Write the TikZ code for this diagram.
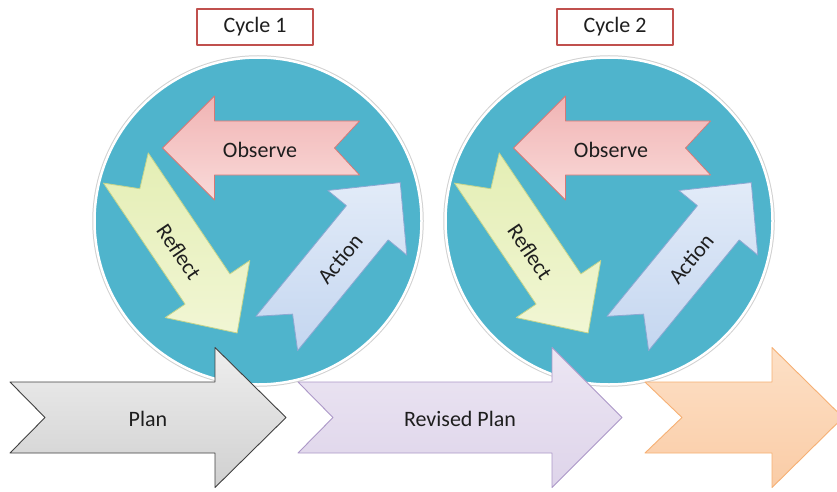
\documentclass[tikz,border=0pt]{standalone}
\usepackage{fontspec}
\setmainfont{Carlito}
\usepackage{tikz}
\usetikzlibrary{positioning}
\usepackage{xcolor}
\definecolor{ink}{RGB}{30,30,30}
\definecolor{aqua}{RGB}{79,180,204}
\definecolor{tagred}{RGB}{192,80,77}
\definecolor{obsTop}{RGB}{241,180,180}
\definecolor{obsBot}{RGB}{249,218,217}
\definecolor{obsLine}{RGB}{214,120,118}
\definecolor{refTop}{RGB}{228,238,180}
\definecolor{refBot}{RGB}{241,246,212}
\definecolor{refLine}{RGB}{196,212,140}
\definecolor{actTop}{RGB}{226,235,248}
\definecolor{actBot}{RGB}{196,214,240}
\definecolor{actLine}{RGB}{140,168,210}
\definecolor{planTop}{RGB}{238,238,238}
\definecolor{planBot}{RGB}{208,208,208}
\definecolor{revTop}{RGB}{236,230,243}
\definecolor{revBot}{RGB}{222,212,234}
\definecolor{revLine}{RGB}{172,152,200}
\definecolor{nxtTop}{RGB}{253,224,198}
\definecolor{nxtBot}{RGB}{250,204,166}
\definecolor{nxtLine}{RGB}{246,176,116}
\tikzset{
  pics/notcharrow/.style n args={5}{code={%
    % length, half shaft, half head, head length, notch depth
    \path[pic actions] ({-#1/2},{#2}) -- ({#1/2-#4},{#2}) -- ({#1/2-#4},{#3})
      -- ({#1/2},0) -- ({#1/2-#4},{-#3}) -- ({#1/2-#4},{-#2})
      -- ({-#1/2},{-#2}) -- ({-#1/2+#5},0) -- cycle;
  }},
  ring/.style={circle,fill=aqua,draw=white,line width=2.5pt,minimum size=327pt,
    preaction={draw=black!18,line width=4.5pt}},
  tagbox/.style={draw=tagred,fill=white,line width=1.2pt,minimum width=116pt,
    minimum height=36pt,inner sep=0pt,font=\fontsize{22}{26}\selectfont,text=ink},
  lbl/.style={font=\fontsize{22}{26}\selectfont,text=ink,inner sep=0pt},
  obsarrow/.style={draw=obsLine,top color=obsTop,bottom color=obsBot,line width=0.8pt},
  refarrow/.style={draw=refLine,top color=refTop,bottom color=refBot,line width=0.8pt},
  actarrow/.style={draw=actLine,top color=actTop,bottom color=actBot,line width=0.8pt},
  planarrow/.style={draw=black!75,top color=planTop,bottom color=planBot,line width=0.9pt},
  revarrow/.style={draw=revLine,top color=revTop,bottom color=revBot,line width=0.9pt},
  nxtarrow/.style={draw=nxtLine,top color=nxtTop,bottom color=nxtBot,line width=0.9pt},
}

\begin{document}
\begin{tikzpicture}[x=1pt,y=-1pt,line join=round]
\clip (0,0) rectangle (837,492);
\fill[white] (0,0) rectangle (837,492);
% one circle per cycle with its three steps
\foreach \i/\cx/\bx in {1/258/255,2/609/615}{
  \node[ring] (ring\i) at (\cx,221) {};
  \node[tagbox] (tag\i) at (\bx,27) {Cycle \i};
  \pic[obsarrow,rotate=180] at ({\cx+3},148) {notcharrow={197}{27}{52}{52}{25}};
  \node[lbl] (obs\i) at ({\cx+2},150) {Observe};
  \pic[refarrow,rotate=-56] at ({\cx-76.5},250.5) {notcharrow={199}{27}{51}{53}{25}};
  \node[lbl,rotate=-56] (ref\i) at ({\cx-79},252) {Reflect};
  \pic[actarrow,rotate=50.7] at ({\cx+80.5},258) {notcharrow={195}{27}{51}{52}{25}};
  \node[lbl,rotate=50.7] (act\i) at ({\cx+82},259) {Action};
}
% plan arrows along the bottom
\pic[planarrow] at (148,417.5) {notcharrow={276}{35.5}{70}{71}{35}};
\node[lbl] (plan) at (148,419) {Plan};
\pic[revarrow] at (460,417.5) {notcharrow={324}{35.5}{70}{70}{35}};
\node[lbl] (revplan) at (460,419) {Revised Plan};
\pic[nxtarrow] at (744,417.5) {notcharrow={198}{35.5}{70}{71}{37}};
\end{tikzpicture}
\end{document}
